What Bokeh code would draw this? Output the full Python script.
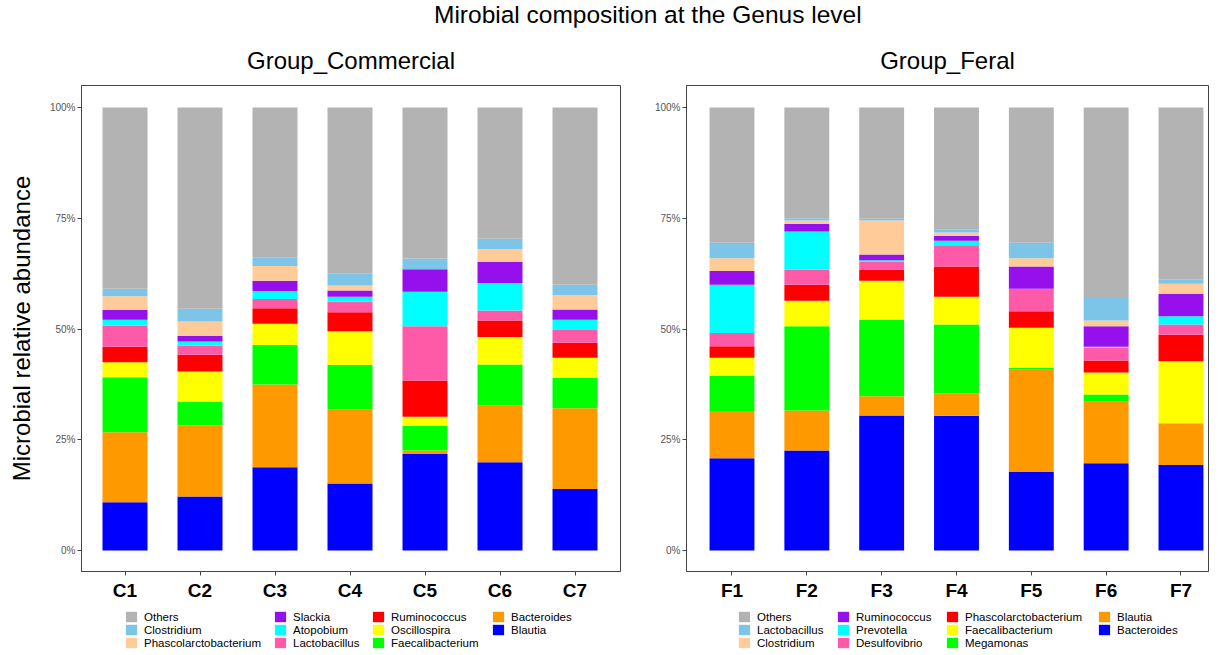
from bokeh.plotting import figure
from bokeh.models import (ColumnDataSource, Range1d, FixedTicker, PrintfTickFormatter,
                          Legend, LegendItem, Div)
from bokeh.layouts import column, row
from bokeh.embed import file_html
from bokeh.resources import INLINE

FONT = "Liberation Sans"

# ---------------- data (percent) ----------------
main_title = "Mirobial composition at the Genus level"
y_label = "Microbial relative abundance"
y_ticks = [0, 25, 50, 75, 100]

com_title = "Group_Commercial"
com_samples = ["C1", "C2", "C3", "C4", "C5", "C6", "C7"]
# stacking order, bottom to top
com_genera = ["Blautia", "Bacteroides", "Faecalibacterium", "Oscillospira", "Ruminococcus",
              "Lactobacillus", "Atopobium", "Slackia", "Phascolarctobacterium",
              "Clostridium", "Others"]
com_blautia = [10.9, 12.2, 18.8, 15.1, 21.8, 19.9, 13.9]
com_bacteroides = [15.8, 16.0, 18.7, 16.7, 0.8, 12.8, 18.2]
com_faecalibacterium = [12.4, 5.3, 8.9, 10.1, 5.5, 9.3, 6.9]
com_oscillospira = [3.4, 6.9, 4.8, 7.6, 2.1, 6.2, 4.5]
com_ruminococcus = [3.5, 3.8, 3.5, 4.3, 8.2, 3.7, 3.4]
com_lactobacillus = [4.8, 2.1, 2.1, 2.4, 12.2, 2.3, 2.9]
com_atopobium = [1.3, 0.9, 1.8, 1.1, 7.8, 6.2, 2.3]
com_slackia = [2.2, 1.2, 2.3, 1.4, 5.1, 4.8, 2.3]
com_phascolarctobacterium = [3.1, 3.3, 3.3, 1.1, 0.0, 2.8, 3.2]
com_clostridium = [1.7, 2.9, 2.0, 2.7, 2.4, 2.4, 2.4]
com_others = [40.9, 45.4, 33.8, 37.5, 34.1, 29.6, 40.0]

fer_title = "Group_Feral"
fer_samples = ["F1", "F2", "F3", "F4", "F5", "F6", "F7"]
fer_genera = ["Bacteroides", "Blautia", "Megamonas", "Faecalibacterium",
              "Phascolarctobacterium", "Desulfovibrio", "Prevotella", "Ruminococcus",
              "Clostridium", "Lactobacillus", "Others"]
fer_bacteroides = [20.8, 22.6, 30.5, 30.4, 17.7, 19.7, 19.3]
fer_blautia = [10.7, 9.0, 4.3, 5.1, 23.1, 13.9, 9.4]
fer_megamonas = [7.9, 19.0, 17.3, 15.5, 0.4, 1.6, 0.0]
fer_faecalibacterium = [4.1, 5.8, 8.8, 6.3, 9.1, 5.0, 14.0]
fer_phascolarctobacterium = [2.6, 3.6, 2.5, 6.8, 3.7, 2.7, 6.0]
fer_desulfovibrio = [3.0, 3.4, 1.8, 4.8, 5.1, 2.9, 2.3]
fer_prevotella = [10.9, 8.6, 0.3, 1.0, 0.0, 0.2, 1.9]
fer_ruminococcus = [3.1, 1.7, 1.3, 1.1, 5.0, 4.6, 5.0]
fer_clostridium = [2.9, 0.8, 7.7, 0.8, 1.9, 1.3, 2.3]
fer_lactobacillus = [3.5, 0.5, 0.4, 0.7, 3.5, 5.1, 0.9]
fer_others = [30.5, 25.0, 25.1, 27.5, 30.5, 43.0, 38.9]

# colours by stack position, bottom to top
palette = ["#0000FF", "#FF9900", "#00FF00", "#FFFF00", "#FF0000", "#FF5AA8",
           "#00FFFF", "#9610EE", "#FFCC99", "#7CC5E8", "#B3B3B3"]

com_values = [com_blautia, com_bacteroides, com_faecalibacterium, com_oscillospira,
              com_ruminococcus, com_lactobacillus, com_atopobium, com_slackia,
              com_phascolarctobacterium, com_clostridium, com_others]
fer_values = [fer_bacteroides, fer_blautia, fer_megamonas, fer_faecalibacterium,
              fer_phascolarctobacterium, fer_desulfovibrio, fer_prevotella,
              fer_ruminococcus, fer_clostridium, fer_lactobacillus, fer_others]

TOP = 58
ROW_H = 13


def make_panel(title, samples, genera, values, width, x_start, px_per_unit,
               mb_left, mb_right, show_ylabel, title_offset):
    height = TOP + 486 + 32
    x_end = x_start + (width - mb_left - mb_right) / px_per_unit
    p = figure(width=width, height=height, output_backend="svg", toolbar_location=None,
               x_range=Range1d(x_start, x_end), y_range=Range1d(-4.74, 104.97),
               min_border_left=mb_left, min_border_right=mb_right,
               min_border_top=TOP, min_border_bottom=32, title=title)
    p.title.text_font = FONT
    p.title.text_font_size = "24px"
    p.title.text_font_style = "normal"
    p.title.text_color = "black"
    p.title.align = "center"
    p.title.offset = title_offset
    p.title.standoff = 24
    p.outline_line_color = "#444444"
    p.outline_line_width = 1
    p.xgrid.visible = False
    p.ygrid.visible = False

    xs = list(range(1, len(samples) + 1))
    data = {"x": xs}
    for g, v in zip(genera, values):
        data[g] = v
    src = ColumnDataSource(data)
    p.vbar_stack(genera, x="x", width=0.6, source=src, color=palette, line_width=0)

    p.xaxis.ticker = FixedTicker(ticks=xs)
    p.xaxis.major_label_overrides = {x: s for x, s in zip(xs, samples)}
    p.xaxis.major_label_text_font = FONT
    p.xaxis.major_label_text_font_size = "19px"
    p.xaxis.major_label_text_font_style = "bold"
    p.xaxis.major_label_text_color = "black"
    p.xaxis.major_label_standoff = 4
    p.yaxis.ticker = FixedTicker(ticks=y_ticks)
    p.yaxis.formatter = PrintfTickFormatter(format="%d%%")
    p.yaxis.major_label_text_font = FONT
    p.yaxis.major_label_text_font_size = "10px"
    p.yaxis.major_label_text_color = "#555555"
    p.yaxis.major_label_standoff = 2
    for ax in (p.xaxis, p.yaxis):
        ax.axis_line_color = "#444444"
        ax.major_tick_line_color = "#444444"
        ax.major_tick_out = 4
        ax.major_tick_in = 0
        ax.minor_tick_line_color = None
    if show_ylabel:
        p.yaxis.axis_label = y_label
        p.yaxis.axis_label_text_font = FONT
        p.yaxis.axis_label_text_font_size = "24px"
        p.yaxis.axis_label_text_font_style = "normal"
        p.yaxis.axis_label_text_color = "black"
        p.yaxis.axis_label_standoff = 12
    return p, src


def make_legend(genera, src, width, cols_x):
    lf = figure(width=width, height=46, output_backend="svg", toolbar_location=None,
                x_range=Range1d(0, 1), y_range=Range1d(0, 1), min_border=0,
                min_border_left=0, min_border_right=0, min_border_top=0,
                min_border_bottom=0, x_axis_location=None, y_axis_location=None)
    lf.outline_line_color = None
    lf.xgrid.visible = False
    lf.ygrid.visible = False
    # hidden copies of the stacks: they only carry the colours for the key
    keys = lf.vbar_stack(genera, x="x", width=0.6, source=src, color=palette,
                         line_width=0, visible=False)
    order = list(range(len(genera)))[::-1]
    for c, lx in enumerate(cols_x):
        idx = order[c * 3:(c + 1) * 3]
        items = [LegendItem(label=genera[i], renderers=[keys[i]]) for i in idx]
        y0 = (3 - len(items)) * ROW_H
        lg = Legend(items=items, location=(lx, y0), orientation="vertical",
                    padding=0, margin=0, spacing=0, border_line_color=None,
                    background_fill_alpha=0, glyph_width=14, glyph_height=ROW_H,
                    label_height=ROW_H, label_standoff=6, label_text_font=FONT,
                    label_text_font_size="11.5px", label_text_color="black",
                    inactive_fill_alpha=0)
        lf.add_layout(lg, "center")
    return lf


p1, s1 = make_panel(com_title, com_samples, com_genera, com_values, 644, 0.42, 75.0,
                    81, 24, True, 7)
p2, s2 = make_panel(fer_title, fer_samples, fer_genera, fer_values, 565, 0.392, 74.83,
                    42, 1, False, 20)
l1 = make_legend(com_genera, s1, 644, [43, 192, 290, 410])
l2 = make_legend(fer_genera, s2, 565, [51, 150, 259, 411])

head = Div(text=main_title, width=1209, height=17,
           styles={"text-align": "left", "text-indent": "429px", "font-size": "24.5px",
                   "font-family": FONT, "line-height": "20px", "color": "black",
                   "white-space": "nowrap", "overflow": "visible"})

layout = column(head, row(column(p1, l1), column(p2, l2)))
open("out.html", "w").write(file_html(layout, INLINE))
